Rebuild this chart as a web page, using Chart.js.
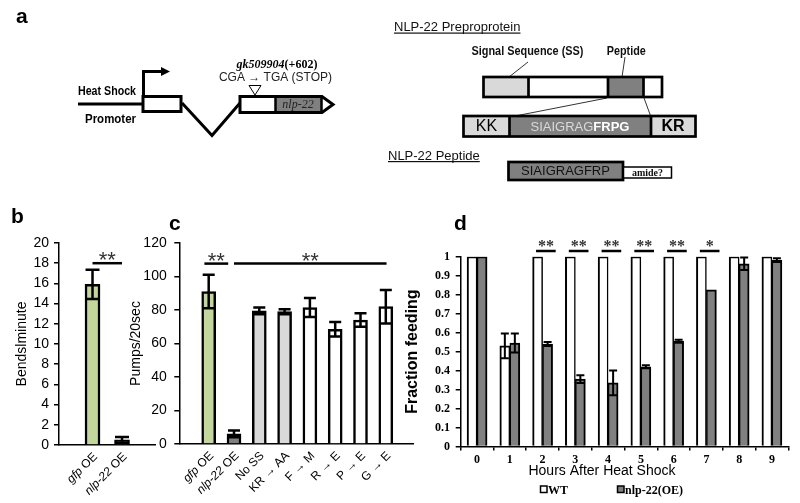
<!DOCTYPE html>
<html>
<head>
<meta charset="utf-8">
<script src="https://cdn.jsdelivr.net/npm/chart.js@4/dist/chart.umd.min.js"></script>
<style>
  html, body { margin: 0; padding: 0; background: #fff; }
  #wrap { position: relative; width: 800px; height: 503px; overflow: hidden; }
  canvas { position: absolute; }
</style>
</head>
<body>
<div id="wrap">
  <canvas id="diagram" width="800" height="503" style="left:0;top:0"></canvas>
  <canvas id="chartB" width="170" height="303" style="left:0;top:200px"></canvas>
  <canvas id="chartC" width="300" height="303" style="left:120px;top:200px"></canvas>
  <canvas id="chartD" width="400" height="303" style="left:400px;top:200px"></canvas>
</div>
<script>
'use strict';

// --- DATA ---
const bLabels = ['gfp OE', 'nlp-22 OE'];
const bValues = [15.9, 0.5];
const bErrors = [1.45, 0.3];

const cLabels = ['gfp OE', 'nlp-22 OE', 'No SS', 'KR → AA', 'F → M', 'R → E', 'P → E', 'G → E'];
const cValues = [91, 6, 79.5, 79, 81.5, 68.5, 74, 82];
const cErrors = [10, 2, 2, 1.5, 5.7, 4.3, 4, 10];

const dHours = ['0', '1', '2', '3', '4', '5', '6', '7', '8', '9'];
const dWT = [1, 0.53, 1, 1, 1, 1, 1, 1, 1, 1];
const dWTErr = [0, 0.065, 0, 0, 0, 0, 0, 0, 0, 0];
const dOE = [1, 0.545, 0.54, 0.355, 0.335, 0.42, 0.555, 0.825, 0.963, 0.982];
const dOEErr = [0, 0.05, 0.01, 0.02, 0.065, 0.008, 0.008, 0, 0.033, 0.01];
const dSig = ['', '', '**', '**', '**', '**', '**', '*', '', ''];

const italicWords = ['gfp', 'nlp-22'];

// --- STYLE ---
const SANS = '"Liberation Sans", Arial, sans-serif';
const SERIF = '"Liberation Serif", "Times New Roman", serif';
const GREEN = '#c3d69b';
const DARK = '#808080';
const LIGHT = '#d9d9d9';
const WHITE = '#ffffff';
const bFill = [GREEN, DARK];
const cFill = [GREEN, DARK, LIGHT, LIGHT, WHITE, WHITE, WHITE, WHITE];

Chart.defaults.font.family = SANS;
Chart.defaults.color = '#000';
Chart.defaults.animation = false;
Chart.defaults.responsive = false;
Chart.defaults.devicePixelRatio = 1;
Chart.defaults.plugins.legend.display = false;
Chart.defaults.plugins.tooltip.enabled = false;

// =========================================================================
// --- PLUGINS ---
// =========================================================================

function errorBars(capWidth, lineWidth) {
    return {
        id: 'errorBars',
        afterDatasetsDraw(chart) {
            const ctx = chart.ctx;
            const y = chart.scales.y;
            ctx.save();
            ctx.strokeStyle = '#000';
            ctx.lineWidth = lineWidth;
            chart.data.datasets.forEach((ds, i) => {
                if (!ds.errors) return;
                chart.getDatasetMeta(i).data.forEach((bar, j) => {
                    const err = ds.errors[j];
                    if (!err) return;
                    const top = y.getPixelForValue(ds.data[j] + err);
                    const bot = y.getPixelForValue(ds.data[j] - err);
                    ctx.beginPath();
                    ctx.moveTo(bar.x, top); ctx.lineTo(bar.x, bot);
                    ctx.moveTo(bar.x - capWidth / 2, top); ctx.lineTo(bar.x + capWidth / 2, top);
                    ctx.moveTo(bar.x - capWidth / 2, bot); ctx.lineTo(bar.x + capWidth / 2, bot);
                    ctx.stroke();
                });
            });
            ctx.restore();
        }
    };
}

// significance bars: from/to are category positions, y is a data value
function sigBars(marks, font, dy) {
    return {
        id: 'sigBars',
        afterDraw(chart) {
            const { ctx, scales: { x, y } } = chart;
            ctx.save();
            ctx.strokeStyle = '#000';
            ctx.lineWidth = 2.5;
            ctx.fillStyle = '#333';
            ctx.font = font;
            ctx.textAlign = 'center';
            ctx.textBaseline = 'alphabetic';
            marks.forEach(m => {
                const x1 = x.getPixelForValue(m.from);
                const x2 = x.getPixelForValue(m.to);
                const py = y.getPixelForValue(m.y);
                ctx.beginPath();
                ctx.moveTo(x1, py); ctx.lineTo(x2, py);
                ctx.stroke();
                ctx.fillText(m.text, (x1 + x2) / 2, py + dy);
            });
            ctx.restore();
        }
    };
}

// rotated category labels with italic gene names
const rotatedLabels = {
    id: 'rotatedLabels',
    afterDraw(chart) {
        const { ctx, chartArea } = chart;
        const x = chart.scales.x;
        ctx.save();
        ctx.fillStyle = '#000';
        ctx.textBaseline = 'middle';
        chart.data.labels.forEach((label, i) => {
            const words = label.split(' ');
            const parts = italicWords.includes(words[0])
                ? [['italic 12px ' + SANS, words[0]], ['12px ' + SANS, ' ' + words.slice(1).join(' ')]]
                : [['12px ' + SANS, label]];
            let w = 0;
            parts.forEach(p => { ctx.font = p[0]; w += ctx.measureText(p[1]).width; });
            ctx.save();
            ctx.translate(x.getPixelForValue(i) + 3, chartArea.bottom + 10);
            ctx.rotate(-Math.PI / 4);
            let cx = -w;
            parts.forEach(p => {
                ctx.font = p[0];
                ctx.fillText(p[1], cx, 0);
                cx += ctx.measureText(p[1]).width;
            });
            ctx.restore();
        });
        ctx.restore();
    }
};

// legend + x title for panel d
const dExtras = {
    id: 'dExtras',
    afterDraw(chart) {
        const ctx = chart.ctx;
        ctx.save();
        ctx.fillStyle = '#000';
        ctx.font = '14px ' + SANS;
        ctx.textAlign = 'center';
        ctx.textBaseline = 'middle';
        ctx.fillText('Hours After Heat Shock', 202, 271);
        ctx.textAlign = 'left';
        ctx.textBaseline = 'alphabetic';
        ctx.font = 'bold 12px ' + SERIF;
        ctx.lineWidth = 1.5;
        ctx.strokeStyle = '#000';
        const items = [[140.5, chart.data.datasets[0]], [217.5, chart.data.datasets[1]]];
        items.forEach(([lx, ds]) => {
            ctx.fillStyle = ds.backgroundColor;
            ctx.fillRect(lx, 286, 6.5, 6.5);
            ctx.strokeRect(lx, 286, 6.5, 6.5);
            ctx.fillStyle = '#000';
            ctx.fillText(ds.label, lx + 7.5, 293.5);
        });
        ctx.restore();
    }
};

function shiftCategories(start, range) {
    return scale => { scale._startValue = start; scale._valueRange = range; };
}

function yAxis(max, step, width, tickPad, titleText, titleFont, titlePad, tickFont) {
    return {
        min: 0, max: max,
        ticks: { stepSize: step, padding: tickPad, font: tickFont, callback: v => String(Math.round(v * 10) / 10) },
        grid: { drawOnChartArea: false, color: '#000', lineWidth: 1.5, tickLength: 5 },
        border: { color: '#000', width: 1.5 },
        title: { display: true, text: titleText, font: titleFont, padding: { top: titlePad, bottom: 0 } },
        afterFit: s => { s.width = width; }
    };
}

// =========================================================================
// --- PANEL b ---
// =========================================================================
new Chart(document.getElementById('chartB'), {
    type: 'bar',
    data: {
        labels: bLabels,
        datasets: [{ data: bValues, errors: bErrors, backgroundColor: bFill, borderColor: '#000', borderWidth: 2.5, barThickness: 15 }]
    },
    options: {
        layout: { padding: { left: 0, right: 15, top: 43, bottom: 0 } },
        scales: {
            x: {
                ticks: { display: false },
                grid: { display: false },
                border: { color: '#000', width: 1.5 },
                afterBuildTicks: shiftCategories(-1.136, 3.254),
                afterFit: s => { s.height = 58; }
            },
            y: yAxis(20, 2, 59, 5, 'Bendslminute', { size: 14 }, 13.6, { size: 14 })
        }
    },
    plugins: [errorBars(14, 2.5), rotatedLabels, sigBars([{ from: 0, to: 1, y: 18, text: '**' }], '22px ' + SANS, 4)]
});

// =========================================================================
// --- PANEL c ---
// =========================================================================
new Chart(document.getElementById('chartC'), {
    type: 'bar',
    data: {
        labels: cLabels,
        datasets: [{ data: cValues, errors: cErrors, backgroundColor: cFill, borderColor: '#000', borderWidth: 2.5, barThickness: 14 }]
    },
    options: {
        layout: { padding: { left: 0, right: 7, top: 43, bottom: 0 } },
        scales: {
            x: {
                ticks: { display: false },
                grid: { display: false },
                border: { color: '#000', width: 1.5 },
                afterBuildTicks: shiftCategories(-1.162, 9.237),
                afterFit: s => { s.height = 59; }
            },
            y: yAxis(120, 20, 59.3, 7.6, 'Pumps/20sec', { size: 14 }, 7.6, { size: 14 })
        }
    },
    plugins: [errorBars(12, 2.5), rotatedLabels,
        sigBars([{ from: -0.17, to: 0.77, y: 107.7, text: '**' }, { from: 1, to: 7.03, y: 107.7, text: '**' }], '22px ' + SANS, 4)]
});

// =========================================================================
// --- PANEL d ---
// =========================================================================
const dMarks = dSig.map((t, i) => ({ from: i - 0.2, to: i + 0.4, y: 1.03, text: t })).filter(m => m.text);

new Chart(document.getElementById('chartD'), {
    type: 'bar',
    data: {
        labels: dHours,
        datasets: [
            { label: 'WT', data: dWT, errors: dWTErr, backgroundColor: WHITE, borderColor: '#000',
              borderWidth: { top: 2, left: 2, right: 1.5, bottom: 0 }, barThickness: 10 },
            { label: 'nlp-22(OE)', data: dOE, errors: dOEErr, backgroundColor: DARK, borderColor: '#000',
              borderWidth: { top: 2, left: 1.5, right: 2, bottom: 0 }, barThickness: 10 }
        ]
    },
    options: {
        layout: { padding: { left: 0, right: 11.7, top: 56.7, bottom: 14.5 } },
        scales: {
            x: {
                ticks: { padding: 2.3, font: { size: 12, weight: 'bold', family: SERIF } },
                grid: { drawOnChartArea: false, color: '#000', lineWidth: 1.5, tickLength: 4 },
                border: { color: '#000', width: 1.5 },
                afterFit: s => { s.height = 42; }
            },
            y: yAxis(1, 0.1, 60.7, 5.7, 'Fraction feeding', { size: 16, weight: 'bold' }, 3.4,
                { size: 12, weight: 'bold', family: SERIF })
        }
    },
    plugins: [errorBars(8, 2), sigBars(dMarks, 'bold 16px ' + SERIF, 0), dExtras]
});

// =========================================================================
// --- PANEL a (gene and peptide diagram) + panel letters ---
// =========================================================================
function drawDiagram() {
    const ctx = document.getElementById('diagram').getContext('2d');
    ctx.strokeStyle = '#000';
    ctx.fillStyle = '#000';
    ctx.lineJoin = 'miter';

    // panel letters
    ctx.font = 'bold 21px ' + SANS;
    ctx.fillText('a', 16, 22.7);
    ctx.fillText('b', 11, 223.3);
    ctx.fillText('c', 169, 230);
    ctx.fillText('d', 454, 230);

    function fitText(str, x, y, font, width, align) {
        ctx.font = font;
        const w = ctx.measureText(str).width;
        const k = width / w;
        ctx.save();
        ctx.translate(align === 'center' ? x - width / 2 : x, y);
        ctx.scale(k, 1);
        ctx.textAlign = 'left';
        ctx.fillText(str, 0, 0);
        ctx.restore();
    }

    function poly(pts, close) {
        ctx.beginPath();
        ctx.moveTo(pts[0][0], pts[0][1]);
        pts.slice(1).forEach(p => ctx.lineTo(p[0], p[1]));
        if (close) ctx.closePath();
    }

    // --- gene model ---
    ctx.lineWidth = 3;
    poly([[78, 104], [143, 104]]); ctx.stroke();
    poly([[143.5, 97], [143.5, 71.5], [162, 71.5]]); ctx.stroke();
    poly([[161, 67], [170, 71.5], [161, 76]], true); ctx.fill();

    ctx.fillStyle = '#fff';
    ctx.fillRect(143, 96.5, 38, 15);
    ctx.strokeRect(143, 96.5, 38, 15);
    poly([[182, 103], [212, 135.5], [240, 103]]); ctx.stroke();

    ctx.fillStyle = DARK;
    ctx.fillRect(276, 98, 46, 13);
    poly([[240, 96.5], [322, 96.5], [333, 104.5], [322, 112.5], [240, 112.5]], true);
    ctx.stroke();
    ctx.lineWidth = 2.5;
    poly([[275.5, 96.5], [275.5, 112.5]]); ctx.stroke();
    poly([[321.5, 96.5], [321.5, 112.5]]); ctx.stroke();

    ctx.fillStyle = '#222';
    ctx.font = 'italic 12px ' + SERIF;
    ctx.textAlign = 'center';
    ctx.textBaseline = 'middle';
    ctx.fillText('nlp-22', 298, 105);

    ctx.lineWidth = 1;
    poly([[249, 85.5], [261, 85.5], [255, 95]], true); ctx.stroke();

    ctx.textBaseline = 'alphabetic';
    ctx.fillStyle = '#000';
    ctx.textAlign = 'left';
    ctx.font = 'bold italic 12px ' + SERIF;
    const gk = 'gk509904';
    const gkW = ctx.measureText(gk).width;
    ctx.font = 'bold 12px ' + SERIF;
    const posW = ctx.measureText('(+602)').width;
    const gx = 277 - (gkW + posW) / 2;
    ctx.font = 'bold italic 12px ' + SERIF;
    ctx.fillText(gk, gx, 68);
    ctx.font = 'bold 12px ' + SERIF;
    ctx.fillText('(+602)', gx + gkW, 68);

    ctx.fillStyle = '#222';
    ctx.textAlign = 'center';
    ctx.font = '12px ' + SANS;
    ctx.fillText('CGA → TGA (STOP)', 275.5, 80.5);

    ctx.fillStyle = '#000';
    fitText('Heat Shock', 78, 95, 'bold 12px ' + SANS, 58, 'left');
    fitText('Promoter', 85, 123, 'bold 12px ' + SANS, 51, 'left');

    // --- preproprotein ---
    function segBox(x, y, h, segs, lw) {
        let cx = x;
        segs.forEach(s => { ctx.fillStyle = s[1]; ctx.fillRect(cx, y, s[0], h); cx += s[0]; });
        ctx.lineWidth = lw;
        ctx.strokeRect(x, y, cx - x, h);
        cx = x;
        segs.slice(0, -1).forEach(s => {
            cx += s[0];
            poly([[cx, y], [cx, y + h]]); ctx.stroke();
        });
    }

    ctx.textAlign = 'left';
    ctx.fillStyle = '#111';
    ctx.font = '13px ' + SANS;
    [['NLP-22 Preproprotein', 394, 31], ['NLP-22 Peptide', 388, 159.5]].forEach(([t, x, y]) => {
        ctx.fillText(t, x, y);
        ctx.fillRect(x, y + 1.5, ctx.measureText(t).width, 1.2);
    });

    ctx.fillStyle = '#111';
    fitText('Signal Sequence (SS)', 527.5, 54.5, 'bold 12px ' + SANS, 112, 'center');
    fitText('Peptide', 626.3, 54.5, 'bold 12px ' + SANS, 39, 'center');

    ctx.lineWidth = 1;
    ctx.strokeStyle = '#333';
    poly([[528, 62], [509, 77]]); ctx.stroke();
    poly([[625, 57], [622, 77]]); ctx.stroke();
    poly([[607, 98], [510, 117]]); ctx.stroke();
    poly([[644, 98], [651, 117]]); ctx.stroke();

    ctx.strokeStyle = '#000';
    segBox(483.5, 77, 20, [[45, LIGHT], [79.5, WHITE], [35.5, DARK], [18.5, WHITE]], 2.7);
    segBox(463.5, 116, 20.5, [[46, LIGHT], [141.5, DARK], [44.5, LIGHT]], 2.7);
    segBox(508.5, 162, 18, [[114.5, DARK]], 2.7);
    segBox(623.5, 167, 11, [[48, WHITE]], 1.5);

    ctx.textBaseline = 'middle';
    ctx.textAlign = 'center';
    ctx.fillStyle = '#000';
    ctx.font = '16px ' + SANS;
    ctx.fillText('KK', 486.5, 127);
    ctx.font = 'bold 16px ' + SANS;
    ctx.fillText('KR', 673, 127);

    ctx.textAlign = 'left';
    ctx.font = '13px ' + SANS;
    const sW = ctx.measureText('SIAIGRAG').width;
    ctx.font = 'bold 13px ' + SANS;
    const fW = ctx.measureText('FRPG').width;
    const sx = 580 - (sW + fW) / 2;
    ctx.fillStyle = LIGHT;
    ctx.font = '13px ' + SANS;
    ctx.fillText('SIAIGRAG', sx, 127);
    ctx.fillStyle = '#fff';
    ctx.font = 'bold 13px ' + SANS;
    ctx.fillText('FRPG', sx + sW, 127);

    ctx.textAlign = 'center';
    ctx.fillStyle = '#111';
    ctx.font = '13px ' + SANS;
    ctx.fillText('SIAIGRAGFRP', 565.5, 171.5);
    ctx.font = 'bold 10px ' + SERIF;
    ctx.fillText('amide?', 647.5, 173);
}

drawDiagram();
</script>
</body>
</html>
